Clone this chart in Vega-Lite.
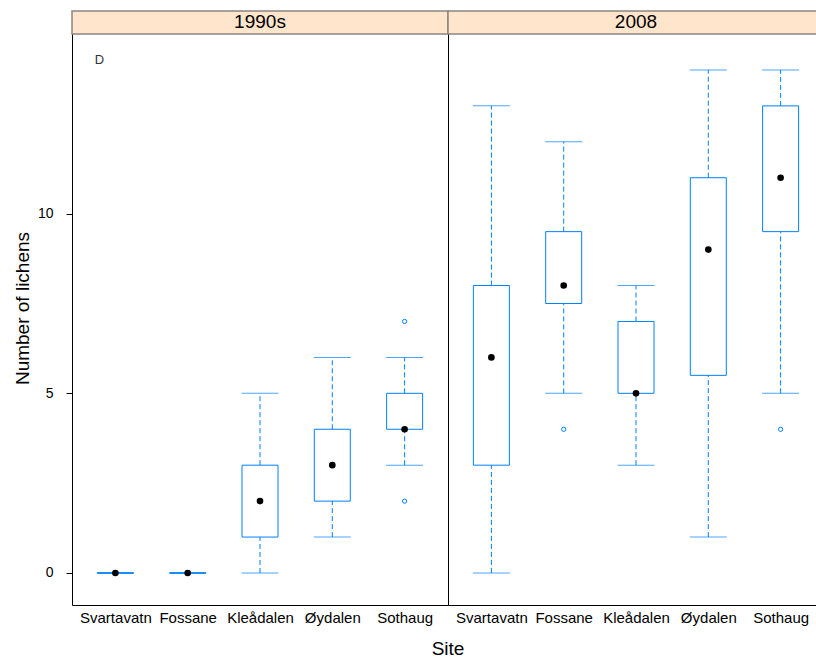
{
  "$schema": "https://vega.github.io/schema/vega-lite/v6.json",
  "padding": {"left": 13, "top": 9, "right": 0, "bottom": 0},
  "bounds": "flush",
  "data": {"values": [
    {"type": "box", "Period": "1990s", "Site": "Svartavatn", "lo": 0, "q1": 0, "med": 0, "q3": 0, "hi": 0},
    {"type": "box", "Period": "1990s", "Site": "Fossane", "lo": 0, "q1": 0, "med": 0, "q3": 0, "hi": 0},
    {"type": "box", "Period": "1990s", "Site": "Kleådalen", "lo": 0, "q1": 1, "med": 2, "q3": 3, "hi": 5},
    {"type": "box", "Period": "1990s", "Site": "Øydalen", "lo": 1, "q1": 2, "med": 3, "q3": 4, "hi": 6},
    {"type": "box", "Period": "1990s", "Site": "Sothaug", "lo": 3, "q1": 4, "med": 4, "q3": 5, "hi": 6},
    {"type": "box", "Period": "2008", "Site": "Svartavatn", "lo": 0, "q1": 3, "med": 6, "q3": 8, "hi": 13},
    {"type": "box", "Period": "2008", "Site": "Fossane", "lo": 5, "q1": 7.5, "med": 8, "q3": 9.5, "hi": 12},
    {"type": "box", "Period": "2008", "Site": "Kleådalen", "lo": 3, "q1": 5, "med": 5, "q3": 7, "hi": 8},
    {"type": "box", "Period": "2008", "Site": "Øydalen", "lo": 1, "q1": 5.5, "med": 9, "q3": 11, "hi": 14},
    {"type": "box", "Period": "2008", "Site": "Sothaug", "lo": 5, "q1": 9.5, "med": 11, "q3": 13, "hi": 14},
    {"type": "outlier", "Period": "1990s", "Site": "Sothaug", "out": 2},
    {"type": "outlier", "Period": "1990s", "Site": "Sothaug", "out": 7},
    {"type": "outlier", "Period": "2008", "Site": "Fossane", "out": 4},
    {"type": "outlier", "Period": "2008", "Site": "Sothaug", "out": 4}
  ]},
  "facet": {
    "column": {
      "field": "Period", "type": "nominal",
      "header": {"title": "Site", "titleOrient": "bottom", "labels": false, "titleFontSize": 19, "titleFontWeight": "normal", "titleFont": "Liberation Sans", "titleColor": "black", "titlePadding": 5}
    }
  },
  "spacing": 0,
  "spec": {
    "width": 376,
    "height": 594,
    "encoding": {
      "x": {"field": "Site", "type": "nominal", "sort": ["Svartavatn", "Fossane", "Kleådalen", "Øydalen", "Sothaug"],
        "scale": {"type": "point", "padding": 0.6},
        "axis": {"title": null, "ticks": false, "domain": false, "labelAngle": 0, "labelPadding": 5, "labelFontSize": 15, "labelFont": "Liberation Sans", "labelColor": "black", "labelOverlap": false, "labelBound": false, "labelFlush": false}
      }
    },
    "layer": [
      {
        "transform": [{"filter": "datum.type == 'box' && datum.Site == 'Svartavatn'"}],
        "mark": {"type": "rect", "fill": "#ffe5cc", "stroke": "#8c8580", "strokeWidth": 1.5},
        "encoding": {
          "x": null,
          "y": {"datum": 15, "type": "quantitative", "scale": {"domain": [-0.891, 15.64], "nice": false, "zero": false},
            "axis": {"title": "Number of lichens", "values": [0, 5, 10], "grid": false, "domain": false, "tickSize": 6, "tickColor": "black", "labelPadding": 13, "labelFontSize": 14, "labelFont": "Liberation Sans", "labelColor": "black", "titleFontSize": 19, "titleFontWeight": "normal", "titleFont": "Liberation Sans", "titleColor": "black", "titlePadding": 5}},
          "y2": {"datum": 15.64}
        }
      },
      {
        "transform": [{"filter": "datum.type == 'box' && datum.Site == 'Svartavatn'"}],
        "mark": {"type": "text", "fontSize": 19, "font": "Liberation Sans", "color": "black", "baseline": "middle"},
        "encoding": {
          "x": null,
          "y": {"datum": 15.32, "type": "quantitative"},
          "text": {"field": "Period", "type": "nominal"}
        }
      },
      {
        "transform": [{"filter": "datum.type == 'box' && datum.Site == 'Svartavatn' && datum.Period == '1990s'"}],
        "mark": {"type": "text", "fontSize": 13, "font": "Liberation Sans", "color": "#333333", "baseline": "middle", "dx": -16},
        "encoding": {
          "y": {"datum": 14.29, "type": "quantitative"},
          "text": {"value": "D"}
        }
      },
      {
        "transform": [{"filter": "datum.type == 'box'"}],
        "mark": {"type": "rule", "color": "#0080ff", "strokeDash": [5, 3], "strokeWidth": 1},
        "encoding": {"y": {"field": "lo", "type": "quantitative"}, "y2": {"field": "q1"}}
      },
      {
        "transform": [{"filter": "datum.type == 'box'"}],
        "mark": {"type": "rule", "color": "#0080ff", "strokeDash": [5, 3], "strokeWidth": 1},
        "encoding": {"y": {"field": "q3", "type": "quantitative"}, "y2": {"field": "hi"}}
      },
      {
        "transform": [{"filter": "datum.type == 'box'"}],
        "mark": {"type": "tick", "color": "#0080ff", "strokeDash": [5, 3], "thickness": 1, "size": 37, "orient": "horizontal"},
        "encoding": {"y": {"field": "lo", "type": "quantitative"}}
      },
      {
        "transform": [{"filter": "datum.type == 'box'"}],
        "mark": {"type": "tick", "color": "#0080ff", "strokeDash": [5, 3], "thickness": 1, "size": 37, "orient": "horizontal"},
        "encoding": {"y": {"field": "hi", "type": "quantitative"}}
      },
      {
        "transform": [{"filter": "datum.type == 'box'"}],
        "mark": {"type": "bar", "fill": "white", "fillOpacity": 0, "stroke": "#0080ff", "strokeWidth": 1, "size": 36},
        "encoding": {"y": {"field": "q1", "type": "quantitative"}, "y2": {"field": "q3"}}
      },
      {
        "transform": [{"filter": "datum.type == 'box'"}],
        "mark": {"type": "point", "filled": true, "color": "black", "size": 44, "opacity": 1},
        "encoding": {"y": {"field": "med", "type": "quantitative"}}
      },
      {
        "transform": [{"filter": "datum.type == 'outlier'"}],
        "mark": {"type": "point", "filled": false, "color": "#0080ff", "size": 18, "strokeWidth": 1, "opacity": 1},
        "encoding": {"y": {"field": "out", "type": "quantitative"}}
      }
    ]
  },
  "resolve": {"scale": {"x": "shared", "y": "shared"}},
  "config": {
    "view": {"stroke": "black", "strokeWidth": 1},
    "font": "Liberation Sans"
  }
}
